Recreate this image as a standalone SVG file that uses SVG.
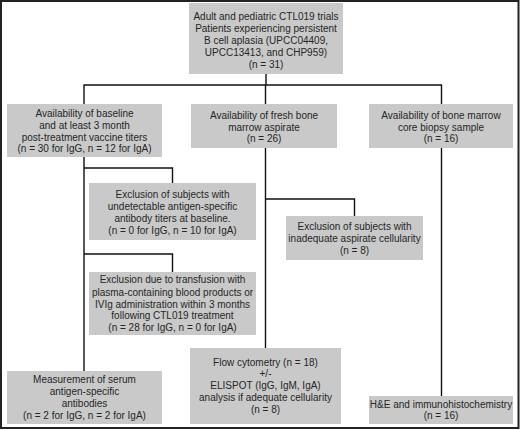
<svg xmlns="http://www.w3.org/2000/svg" width="520" height="430" viewBox="0 0 520 430">
<style>
.box{fill:#c9c9c9;stroke:none}
text{font-family:"Liberation Sans",Arial,sans-serif;font-size:10px;fill:#262626;text-anchor:middle}
.conn{fill:none;stroke:#111;stroke-width:1.4}
</style>
<rect x="0" y="0" width="520" height="430" fill="#fff"/>
<rect x="1" y="1" width="517.5" height="427" fill="none" stroke="#222" stroke-width="2"/>
<g id="connectors" class="conn">
<path d="M266,74 V85 M84,104 V85 H441.5 V104 M265.5,85 V104"/>
<path d="M84,157 V371 M84,168 H172.5 V183 M84,254 H172.5 V272"/>
<path d="M265.5,148 V348 M265.5,199 H354.5 V216"/>
<path d="M441.5,148 V396"/>
</g>
<g id="n-top">
<rect class="box" x="189" y="3" width="154" height="71"/>
<text x="266" y="19.5">Adult and pediatric CTL019 trials</text>
<text x="266" y="31.5">Patients experiencing persistent</text>
<text x="266" y="43.5">B cell aplasia (UPCC04409,</text>
<text x="266" y="55.5">UPCC13413, and CHP959)</text>
<text x="266" y="67.5">(n = 31)</text>
</g>
<g id="n-baseline">
<rect class="box" x="7" y="104" width="155" height="53"/>
<text x="84.5" y="116.5">Availability of baseline</text>
<text x="84.5" y="128.5">and at least 3 month</text>
<text x="84.5" y="140.5">post-treatment vaccine titers</text>
<text x="84.5" y="152">(n = 30 for IgG, n = 12 for IgA)</text>
</g>
<g id="n-aspirate">
<rect class="box" x="191" y="104" width="146" height="44"/>
<text x="264" y="118.5">Availability of fresh bone</text>
<text x="264" y="130.5">marrow aspirate</text>
<text x="264" y="142">(n = 26)</text>
</g>
<g id="n-core">
<rect class="box" x="369" y="104" width="144" height="44"/>
<text x="441" y="118.5">Availability of bone marrow</text>
<text x="441" y="130.5">core biopsy sample</text>
<text x="441" y="142">(n = 16)</text>
</g>
<g id="n-excl1">
<rect class="box" x="89" y="183" width="167" height="57"/>
<text x="172.5" y="197.5">Exclusion of subjects with</text>
<text x="172.5" y="209.5">undetectable antigen-specific</text>
<text x="172.5" y="221.5">antibody titers at baseline.</text>
<text x="172.5" y="233.5">(n = 0 for IgG, n = 10 for IgA)</text>
</g>
<g id="n-excl2">
<rect class="box" x="89" y="272" width="167" height="63"/>
<text x="172.5" y="282.5">Exclusion due to transfusion with</text>
<text x="172.5" y="295.5">plasma-containing blood products or</text>
<text x="172.5" y="307.5">IVIg administration within 3 months</text>
<text x="172.5" y="318.5">following CTL019 treatment</text>
<text x="172.5" y="330.5">(n = 28 for IgG, n = 0 for IgA)</text>
</g>
<g id="n-excl3">
<rect class="box" x="286" y="216" width="137" height="44"/>
<text x="354.5" y="230">Exclusion of subjects with</text>
<text x="354.5" y="242">inadequate aspirate cellularity</text>
<text x="354.5" y="253.5">(n = 8)</text>
</g>
<g id="n-serum">
<rect class="box" x="7" y="371" width="155" height="53"/>
<text x="84.5" y="382.5">Measurement of serum</text>
<text x="84.5" y="394.5">antigen-specific</text>
<text x="84.5" y="406.5">antibodies</text>
<text x="84.5" y="418.5">(n = 2 for IgG, n = 2 for IgA)</text>
</g>
<g id="n-flow">
<rect class="box" x="190" y="348" width="151" height="76"/>
<text x="265.5" y="365.5">Flow cytometry (n = 18)</text>
<text x="265.5" y="376.5">+/-</text>
<text x="265.5" y="388.5">ELISPOT (IgG, IgM, IgA)</text>
<text x="265.5" y="400.5">analysis if adequate cellularity</text>
<text x="265.5" y="412.5">(n = 8)</text>
</g>
<g id="n-he">
<rect class="box" x="369" y="396" width="144" height="28"/>
<text x="441" y="407.5">H&amp;E and immunohistochemistry</text>
<text x="441" y="418.5">(n = 16)</text>
</g>
</svg>
